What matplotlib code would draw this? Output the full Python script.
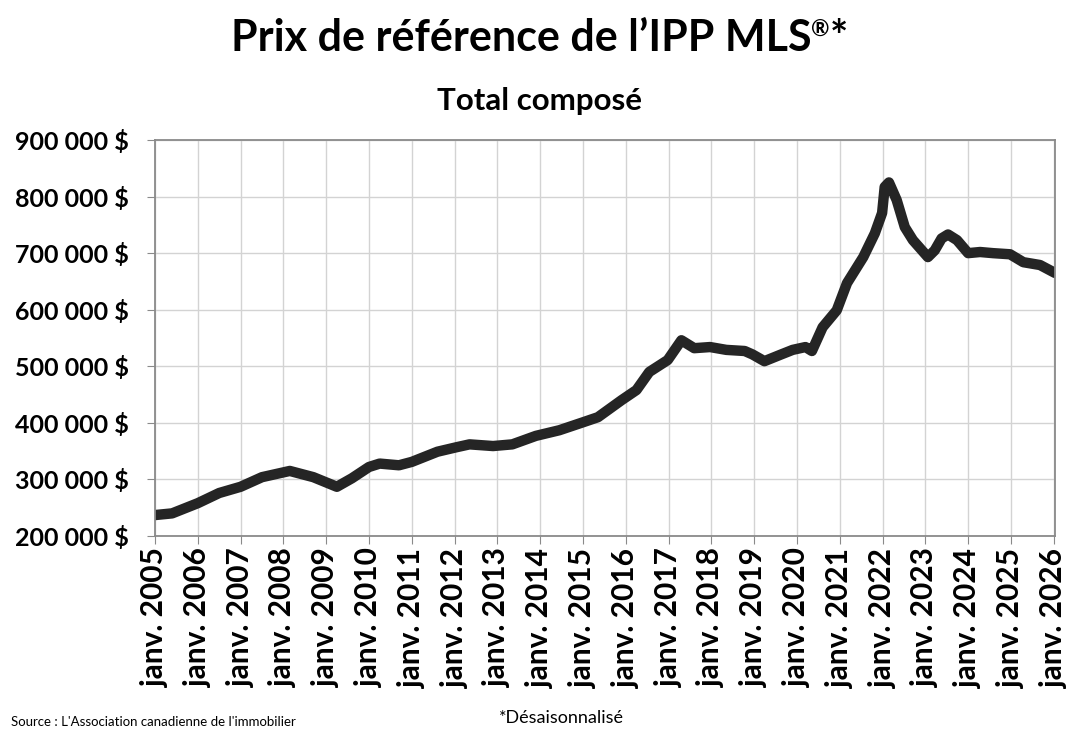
import matplotlib
matplotlib.use("Agg")
import matplotlib.pyplot as plt

# Data (decimal year, price in $)
years = [2005.0, 2005.4, 2006.0, 2006.5, 2007.0, 2007.5, 2008.15, 2008.7, 2009.25, 2009.6,
         2010.0, 2010.25, 2010.7, 2011.0, 2011.6, 2012.05, 2012.35, 2012.9, 2013.35, 2013.9,
         2014.45, 2015.0, 2015.35, 2015.9, 2016.25, 2016.55, 2016.98, 2017.3, 2017.6, 2017.97,
         2018.35, 2018.78, 2018.96, 2019.24, 2019.6, 2019.9, 2020.2, 2020.35, 2020.6, 2020.93,
         2021.17, 2021.55, 2021.82, 2021.99, 2022.05, 2022.15, 2022.33, 2022.52, 2022.71, 2023.06,
         2023.22, 2023.38, 2023.53, 2023.74, 2024.0, 2024.28, 2024.58, 2024.98, 2025.29, 2025.68,
         2026.03]
prices = [237000, 240000, 258000, 276000, 287000, 304000, 315000, 304000, 287000, 302000,
          322000, 328000, 325000, 331000, 349000, 357000, 362000, 359000, 362000, 377000,
          387000, 401000, 410000, 440000, 458000, 490000, 511000, 546000, 532000, 534000,
          529000, 527000, 521000, 509000, 520000, 529000, 534000, 527000, 569000, 599000,
          647000, 693000, 735000, 771000, 817000, 825000, 794000, 746000, 723000, 693000,
          705000, 726000, 733000, 723000, 700000, 702000, 700000, 698000, 684000, 679000,
          665000]

tick_years = list(range(2005, 2027))
tick_labels = [f"janv. {y}" for y in tick_years]
ytick_vals = list(range(200000, 900001, 100000))
ytick_labels = [f"{v//1000} 000 $" for v in ytick_vals]

FONT = ["Lato", "DejaVu Sans"]
plt.rcParams['font.family'] = FONT

W, H = 1079, 740
fig = plt.figure(figsize=(W / 100, H / 100), dpi=100)
ax = fig.add_axes([155 / W, 1 - 536 / H, 900 / W, 396 / H])

ax.plot(years, prices, color="#252525", linewidth=7.5, solid_capstyle="round",
        solid_joinstyle="round")

ax.set_xlim(2005, 2026.03)
ax.set_ylim(200000, 900000)
ax.set_xticks(tick_years)
ax.set_xticklabels(tick_labels, rotation=90, fontsize=21.5, fontweight="bold")
ax.set_yticks(ytick_vals)
ax.set_yticklabels(ytick_labels, fontsize=18, fontweight="bold")
ax.grid(True, color="#d3d3d3", linewidth=1)
ax.set_axisbelow(True)
for s in ax.spines.values():
    s.set_color("#8a8a8a")
    s.set_linewidth(1.3)
ax.tick_params(axis="both", direction="out", length=6, color="#8a8a8a")
ax.tick_params(axis="y", pad=13)
ax.tick_params(axis="x", pad=3)

# Title with superscript ®
r = fig.canvas.get_renderer()
base_y = 1 - 51 / H
parts = [("Prix de référence de l’IPP MLS", 31, 0.0),
         ("®", 16, 14 / H),
         ("*", 31, 0.0)]
texts = []
for s, fs, dy in parts:
    t = fig.text(0, base_y + dy, s, fontsize=fs, fontweight="bold",
                 ha="left", va="baseline")
    texts.append(t)
widths = [t.get_window_extent(r).width for t in texts]
total = sum(widths)
x = (W / 2) - total / 2
for t, w in zip(texts, widths):
    t.set_x(x / W)
    x += w

fig.text(0.5, 1 - 110 / H, "Total composé", ha="center", va="baseline",
         fontsize=22.5, fontweight="bold")
fig.text(0.01, 0.024, "Source : L'Association canadienne de l'immobilier", ha="left",
         va="center", fontsize=9.5)
fig.text(0.52, 0.03, "*Désaisonnalisé", ha="center", va="center", fontsize=13)

fig.savefig("out.png", dpi=100)
